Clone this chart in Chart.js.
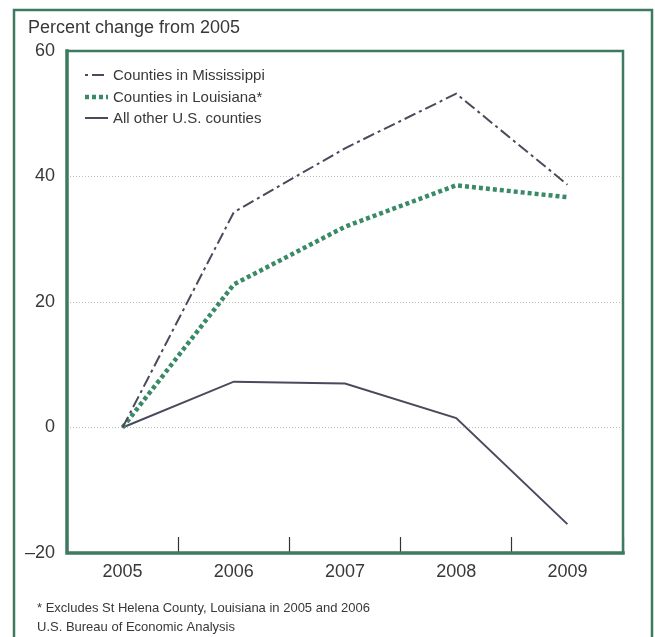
<!DOCTYPE html>
<html>
<head>
<meta charset="utf-8">
<script src="https://cdn.jsdelivr.net/npm/chart.js@4/dist/chart.umd.min.js"></script>
<style>
  html, body { margin: 0; padding: 0; background: #ffffff; }
  #wrap { width: 655px; height: 637px; position: relative; }
</style>
</head>
<body>
<div id="wrap"><canvas id="c" width="655" height="637"></canvas></div>
<script>
// ---- Data ----
const years = ['2005', '2006', '2007', '2008', '2009'];
const mississippi = [0, 34.3, 44.5, 53.2, 38.7];
const louisiana = [0, 22.8, 32.0, 38.6, 36.7];
const otherCounties = [0, 7.3, 7.0, 1.5, -15.4];
const seriesLabels = ['Counties in Mississippi', 'Counties in Louisiana*', 'All other U.S. counties'];
const yTicks = [-20, 0, 20, 40, 60];
const titleText = 'Percent change from 2005';
const footnotes = ['* Excludes St Helena County, Louisiana in 2005 and 2006', 'U.S. Bureau of Economic Analysis'];

// ---- Styles ----
const FONT = '"Liberation Sans", Arial, Helvetica, sans-serif';
const GREEN = '#3d7a5f';
const DOTGREEN = '#3b8a67';
const DARK = '#4a4a5c';
const TEXT = '#383838';

const frameAndText = {
  id: 'frameAndText',
  beforeDraw(chart) {
    const ctx = chart.ctx;
    ctx.save();
    ctx.fillStyle = '#ffffff';
    ctx.fillRect(0, 0, chart.width, chart.height);
    // outer frame
    ctx.strokeStyle = GREEN;
    ctx.lineWidth = 2.5;
    ctx.strokeRect(14, 10, 638, 640);
    // title
    ctx.fillStyle = TEXT;
    ctx.font = '18px ' + FONT;
    ctx.textAlign = 'left';
    ctx.textBaseline = 'alphabetic';
    ctx.fillText(titleText, 28, 33);
    // footnotes
    ctx.font = '13px ' + FONT;
    ctx.fillText(footnotes[0], 37, 612);
    ctx.fillText(footnotes[1], 37, 631);
    ctx.restore();
  },
  afterDraw(chart) {
    const ctx = chart.ctx;
    const a = chart.chartArea;
    ctx.save();
    ctx.strokeStyle = GREEN;
    ctx.lineCap = 'square';
    // top & right
    ctx.lineWidth = 2.5;
    ctx.beginPath();
    ctx.moveTo(a.left, a.top);
    ctx.lineTo(a.right, a.top);
    ctx.lineTo(a.right, a.bottom);
    ctx.stroke();
    // left & bottom (thicker)
    ctx.lineWidth = 3.5;
    ctx.beginPath();
    ctx.moveTo(a.left, a.top);
    ctx.lineTo(a.left, a.bottom);
    ctx.lineTo(a.right, a.bottom);
    ctx.stroke();

    // legend inside the plot
    const x0 = a.left + 18, x1 = a.left + 41, tx = a.left + 46;
    const rows = [a.top + 24, a.top + 46, a.top + 67];
    ctx.font = '15px ' + FONT;
    ctx.textAlign = 'left';
    ctx.textBaseline = 'middle';
    chart.data.datasets.forEach((ds, i) => {
      const y = rows[i];
      ctx.save();
      ctx.strokeStyle = ds.borderColor;
      ctx.lineWidth = ds.borderWidth;
      ctx.lineCap = 'butt';
      if (i === 0) ctx.setLineDash([3, 4, 12, 4]);
      else ctx.setLineDash(ds.borderDash || []);
      ctx.beginPath();
      ctx.moveTo(x0, y);
      ctx.lineTo(x1, y);
      ctx.stroke();
      ctx.restore();
      ctx.fillStyle = TEXT;
      ctx.fillText(ds.label, tx, y + 1);
    });
    ctx.restore();
  }
};

new Chart(document.getElementById('c'), {
  type: 'line',
  data: {
    labels: years,
    datasets: [
      { label: seriesLabels[0], data: mississippi, borderColor: DARK, borderWidth: 2, borderDash: [12, 4, 3, 4], pointRadius: 0, tension: 0, fill: false },
      { label: seriesLabels[1], data: louisiana, borderColor: DOTGREEN, borderWidth: 4.5, borderDash: [4, 3], borderCapStyle: 'butt', pointRadius: 0, tension: 0, fill: false },
      { label: seriesLabels[2], data: otherCounties, borderColor: DARK, borderWidth: 2, pointRadius: 0, tension: 0, fill: false }
    ]
  },
  options: {
    responsive: false,
    animation: false,
    layout: { padding: { left: 0, top: 51, right: 32, bottom: 0 } },
    plugins: { legend: { display: false }, tooltip: { enabled: false } },
    scales: {
      x: {
        offset: true,
        grid: { offset: true, drawOnChartArea: false, drawTicks: true, tickLength: -16, tickColor: '#333333', tickWidth: 1.2 },
        border: { display: false },
        ticks: { color: TEXT, font: { family: FONT, size: 18 }, padding: 24, maxRotation: 0 },
        afterFit(s) { s.height = 84; }
      },
      y: {
        min: -20, max: 60,
        afterBuildTicks(s) { s.ticks = yTicks.map(v => ({ value: v })); },
        grid: { color: '#bdbdbd', lineWidth: 1, drawTicks: false },
        border: { display: false, dash: [1, 2] },
        ticks: {
          color: TEXT, font: { family: FONT, size: 18 }, padding: 12,
          callback: v => (v < 0 ? '\u2013' + Math.abs(v) : String(v))
        },
        afterFit(s) { s.width = 67; }
      }
    }
  },
  plugins: [frameAndText]
});
</script>
</body>
</html>
